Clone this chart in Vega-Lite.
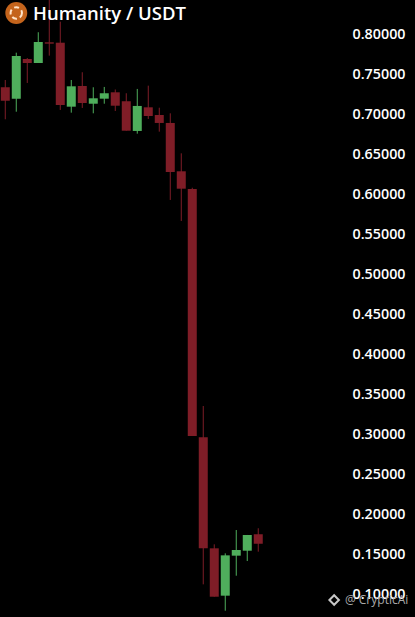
{"$schema":"https://vega.github.io/schema/vega-lite/v6.json","width":415,"height":617,"padding":0,"autosize":{"type":"none"},"background":"#000000","config":{"view":{"stroke":null}},
"title":{"text":"Humanity / USDT","anchor":"start","frame":"group","orient":"top","offset":-23,"dx":33,"color":"#ffffff","font":"Open Sans","fontSize":18.5,"fontWeight":600},
"datasets":{"candles":[
{"i":0,"open":0.7165,"close":0.7333,"high":0.7424,"low":0.6932,"dir":"down"},
{"i":1,"open":0.719,"close":0.7725,"high":0.7766,"low":0.7027,"dir":"up"},
{"i":2,"open":0.7687,"close":0.7637,"high":0.7699,"low":0.7387,"dir":"down"},
{"i":3,"open":0.7637,"close":0.79,"high":0.8022,"low":0.7637,"dir":"up"},
{"i":4,"open":0.7896,"close":0.7879,"high":0.8488,"low":0.7729,"dir":"down"},
{"i":5,"open":0.7891,"close":0.7111,"high":0.8154,"low":0.7049,"dir":"down"},
{"i":6,"open":0.709,"close":0.7345,"high":0.7424,"low":0.7015,"dir":"up"},
{"i":7,"open":0.7349,"close":0.7136,"high":0.7521,"low":0.7074,"dir":"down"},
{"i":8,"open":0.7127,"close":0.7195,"high":0.7333,"low":0.7007,"dir":"up"},
{"i":9,"open":0.719,"close":0.7258,"high":0.7337,"low":0.7127,"dir":"up"},
{"i":10,"open":0.727,"close":0.7102,"high":0.7305,"low":0.7036,"dir":"down"},
{"i":11,"open":0.7158,"close":0.6789,"high":0.7258,"low":0.6789,"dir":"down"},
{"i":12,"open":0.6786,"close":0.7099,"high":0.7312,"low":0.6752,"dir":"up"},
{"i":13,"open":0.7082,"close":0.6973,"high":0.7353,"low":0.6936,"dir":"down"},
{"i":14,"open":0.6986,"close":0.6886,"high":0.7077,"low":0.6777,"dir":"down"},
{"i":15,"open":0.6886,"close":0.6272,"high":0.7007,"low":0.5922,"dir":"down"},
{"i":16,"open":0.6281,"close":0.6063,"high":0.6506,"low":0.5659,"dir":"down"},
{"i":17,"open":0.6059,"close":0.2966,"high":0.6075,"low":0.2966,"dir":"down"},
{"i":18,"open":0.295,"close":0.156,"high":0.3342,"low":0.1109,"dir":"down"},
{"i":19,"open":0.156,"close":0.0954,"high":0.161,"low":0.0954,"dir":"down"},
{"i":20,"open":0.0967,"close":0.1472,"high":0.1497,"low":0.0779,"dir":"up"},
{"i":21,"open":0.1468,"close":0.1539,"high":0.1789,"low":0.1217,"dir":"up"},
{"i":22,"open":0.153,"close":0.1727,"high":0.1727,"low":0.1401,"dir":"up"},
{"i":23,"open":0.1735,"close":0.1618,"high":0.1811,"low":0.1518,"dir":"down"}]},
"encoding":{"x":{"field":"i","type":"quantitative","scale":{"domain":[-0.48,37.25],"nice":false,"zero":false,"padding":0},"axis":null}},
"layer":[
{"data":{"name":"candles"},"mark":{"type":"rule","strokeWidth":1,"clip":true},"encoding":{"y":{"field":"low","type":"quantitative","scale":{"domain":[0.07,0.84257],"nice":false,"zero":false},"axis":{"orient":"right","title":null,"values":[0.1,0.15,0.2,0.25,0.3,0.35,0.4,0.45,0.5,0.55,0.6,0.65,0.7,0.75,0.8],"format":".5f","labelAlign":"right","labelPadding":-10,"ticks":false,"domain":false,"grid":false,"labelColor":"#ffffff","labelFont":"Open Sans","labelFontSize":14.3,"labelFontWeight":600,"labelOffset":1}},"y2":{"field":"high"},"color":{"field":"dir","type":"nominal","scale":{"domain":["up","down"],"range":["#4fae5c","#7f1d27"]},"legend":null}}},
{"data":{"name":"candles"},"mark":{"type":"bar","size":9,"clip":true},"encoding":{"y":{"field":"open","type":"quantitative"},"y2":{"field":"close"},"color":{"field":"dir","type":"nominal","legend":null}}},
{"data":{"values":[{"i":1,"v":0.8263}]},"mark":{"type":"point","filled":true,"size":480,"color":"#c4641c","opacity":1},"encoding":{"y":{"field":"v","type":"quantitative"}}},
{"data":{"values":[{"i":1,"v":0.8263}]},"mark":{"type":"point","filled":false,"size":130,"stroke":"#ffe6cc","strokeWidth":2,"strokeDash":[5,3],"opacity":1},"encoding":{"y":{"field":"v","type":"quantitative"}}},
{"data":{"values":[{"i":29.9,"v":0.0913}]},"mark":{"type":"point","shape":"diamond","filled":false,"size":90,"stroke":"#c8c8c8","strokeWidth":2,"opacity":1},"encoding":{"y":{"field":"v","type":"quantitative"}}},
{"data":{"values":[{"i":30.88,"v":0.0913,"t":"@ CrypticAi"}]},"mark":{"type":"text","align":"left","baseline":"middle","color":"#a8a8a8","font":"Open Sans","fontSize":12},"encoding":{"y":{"field":"v","type":"quantitative"},"text":{"field":"t"}}}
]}
